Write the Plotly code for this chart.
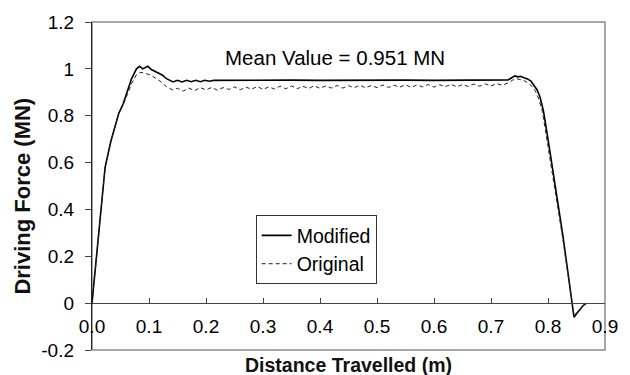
import plotly.graph_objects as go

# ---- data ----
mod_x = [0.0, 0.023, 0.033, 0.047, 0.0545, 0.062, 0.069, 0.078, 0.0836, 0.089, 0.094, 0.098,
         0.104, 0.1126, 0.118, 0.124, 0.130, 0.1346, 0.142, 0.15, 0.158, 0.166, 0.174, 0.182,
         0.19, 0.198, 0.206, 0.214, 0.25, 0.3, 0.35, 0.4, 0.45, 0.5, 0.55, 0.6, 0.65, 0.7,
         0.725, 0.73, 0.737, 0.742, 0.747, 0.752, 0.758, 0.764, 0.77, 0.776, 0.781, 0.786,
         0.792, 0.8, 0.809, 0.818, 0.826, 0.835, 0.842, 0.8456, 0.85, 0.855, 0.861, 0.867]
mod_y = [0.0, 0.58, 0.69, 0.81, 0.85, 0.90, 0.955, 1.0, 1.011, 1.0, 1.008, 1.011,
         0.997, 0.987, 0.983, 0.973, 0.959, 0.953, 0.944, 0.951, 0.944, 0.951, 0.945, 0.951,
         0.945, 0.951, 0.947, 0.951, 0.952, 0.951, 0.952, 0.951, 0.952, 0.951, 0.952, 0.951, 0.952, 0.951,
         0.951, 0.953, 0.963, 0.97, 0.966, 0.968, 0.962, 0.957, 0.948, 0.93, 0.91, 0.88,
         0.82, 0.70, 0.56, 0.42, 0.29, 0.13, 0.0, -0.06, -0.045, -0.03, -0.012, 0.0]

orig_x = [0.0, 0.023, 0.033, 0.047, 0.0545, 0.062, 0.07, 0.078, 0.086, 0.095, 0.104, 0.113,
          0.121, 0.13, 0.1416, 0.15,
          0.16, 0.17, 0.18, 0.19, 0.20, 0.21, 0.22, 0.23, 0.24, 0.25, 0.26, 0.27, 0.28, 0.29,
          0.30, 0.31, 0.32, 0.33, 0.34, 0.35, 0.36, 0.37, 0.38, 0.39, 0.40, 0.41, 0.42, 0.43,
          0.44, 0.45, 0.46, 0.47, 0.48, 0.49, 0.50, 0.51, 0.52, 0.53, 0.54, 0.55, 0.56, 0.57,
          0.58, 0.59, 0.60, 0.61, 0.62, 0.63, 0.64, 0.65, 0.66, 0.67, 0.68, 0.69, 0.70, 0.71,
          0.72, 0.73, 0.738, 0.745, 0.752, 0.758, 0.765, 0.772, 0.778, 0.784, 0.79, 0.798,
          0.807, 0.816, 0.825, 0.834, 0.842, 0.846, 0.852, 0.858, 0.865, 0.87]
orig_y = [0.0, 0.58, 0.69, 0.81, 0.845, 0.895, 0.94, 0.975, 0.985, 0.98, 0.972, 0.958,
          0.945, 0.925, 0.91, 0.917,
          0.905, 0.918, 0.907, 0.92, 0.91, 0.921, 0.909, 0.92, 0.912, 0.923, 0.911, 0.922, 0.913, 0.925,
          0.912, 0.923, 0.914, 0.926, 0.915, 0.927, 0.915, 0.926, 0.916, 0.928, 0.917, 0.927, 0.918, 0.929,
          0.918, 0.928, 0.92, 0.93, 0.919, 0.929, 0.92, 0.931, 0.921, 0.93, 0.922, 0.932, 0.921, 0.931,
          0.923, 0.933, 0.922, 0.932, 0.924, 0.934, 0.923, 0.933, 0.925, 0.935, 0.926, 0.936, 0.927, 0.937,
          0.93, 0.94, 0.952, 0.958, 0.955, 0.95, 0.94, 0.925, 0.905, 0.87, 0.82, 0.70,
          0.56, 0.42, 0.29, 0.14, 0.01, -0.055, -0.035, -0.02, -0.005, 0.0]

x_ticks = [0.0, 0.1, 0.2, 0.3, 0.4, 0.5, 0.6, 0.7, 0.8, 0.9]
x_ticktext = ["0.0", "0.1", "0.2", "0.3", "0.4", "0.5", "0.6", "0.7", "0.8", "0.9"]
y_ticks = [-0.2, 0.0, 0.2, 0.4, 0.6, 0.8, 1.0, 1.2]
y_ticktext = ["-0.2", "0", "0.2", "0.4", "0.6", "0.8", "1", "1.2"]

mean_label = "Mean Value = 0.951 MN"
mean_pos = (0.4265, 1.05)

FONT = "Liberation Sans, Arial, sans-serif"

fig = go.Figure()
fig.add_trace(go.Scatter(x=mod_x, y=mod_y, mode="lines", name="Modified",
                         line=dict(color="black", width=1.6)))
fig.add_trace(go.Scatter(x=orig_x, y=orig_y, mode="lines", name="Original",
                         line=dict(color="#222", width=1, dash="4px,3px")))

fig.add_shape(type="rect", xref="x domain", yref="y domain", x0=0, x1=1, y0=0, y1=1,
              line=dict(color="#8a8a8a", width=1.5), layer="below")

fig.add_annotation(x=mean_pos[0], y=mean_pos[1], xref="x", yref="y", text=mean_label,
                   showarrow=False, font=dict(size=20.5, color="black", family=FONT))
fig.add_annotation(x=0.5, y=-0.045, xref="x domain", yref="paper", text="<b>Distance Travelled (m)</b>",
                   showarrow=False, yanchor="middle", font=dict(size=19.5, color="#111", family=FONT))
fig.add_annotation(x=-0.135, y=0.47, xref="paper", yref="paper", text="<b>Driving Force (MN)</b>",
                   textangle=-90, showarrow=False, xanchor="center", yanchor="middle",
                   font=dict(size=22, color="#111", family=FONT))

fig.update_layout(
    width=630, height=375,
    margin=dict(l=92, r=21, t=18, b=25),
    paper_bgcolor="white", plot_bgcolor="white",
    font=dict(family=FONT, size=19, color="black"),
    showlegend=True,
    legend=dict(x=0.319, y=0.411, xanchor="left", yanchor="top",
                bgcolor="white", bordercolor="#333", borderwidth=1,
                font=dict(size=19.5, family=FONT), tracegroupgap=0),
    xaxis=dict(range=[0, 0.9], anchor="free", position=0.2 / 1.4,
               tickvals=x_ticks, ticktext=x_ticktext,
               showline=True, linecolor="#444", linewidth=1.3,
               ticks="inside", ticklen=5, tickcolor="#444",
               showgrid=False, zeroline=False, ticklabelstandoff=6,
               tickfont=dict(size=19, family=FONT)),
    yaxis=dict(range=[-0.2, 1.2], tickvals=y_ticks, ticktext=y_ticktext,
               showline=True, linecolor="#222", linewidth=1.3,
               ticks="outside", ticklen=6, tickcolor="#444",
               showgrid=False, zeroline=False, ticklabelstandoff=7,
               tickfont=dict(size=19, family=FONT)),
)

fig.write_html("out.html")
